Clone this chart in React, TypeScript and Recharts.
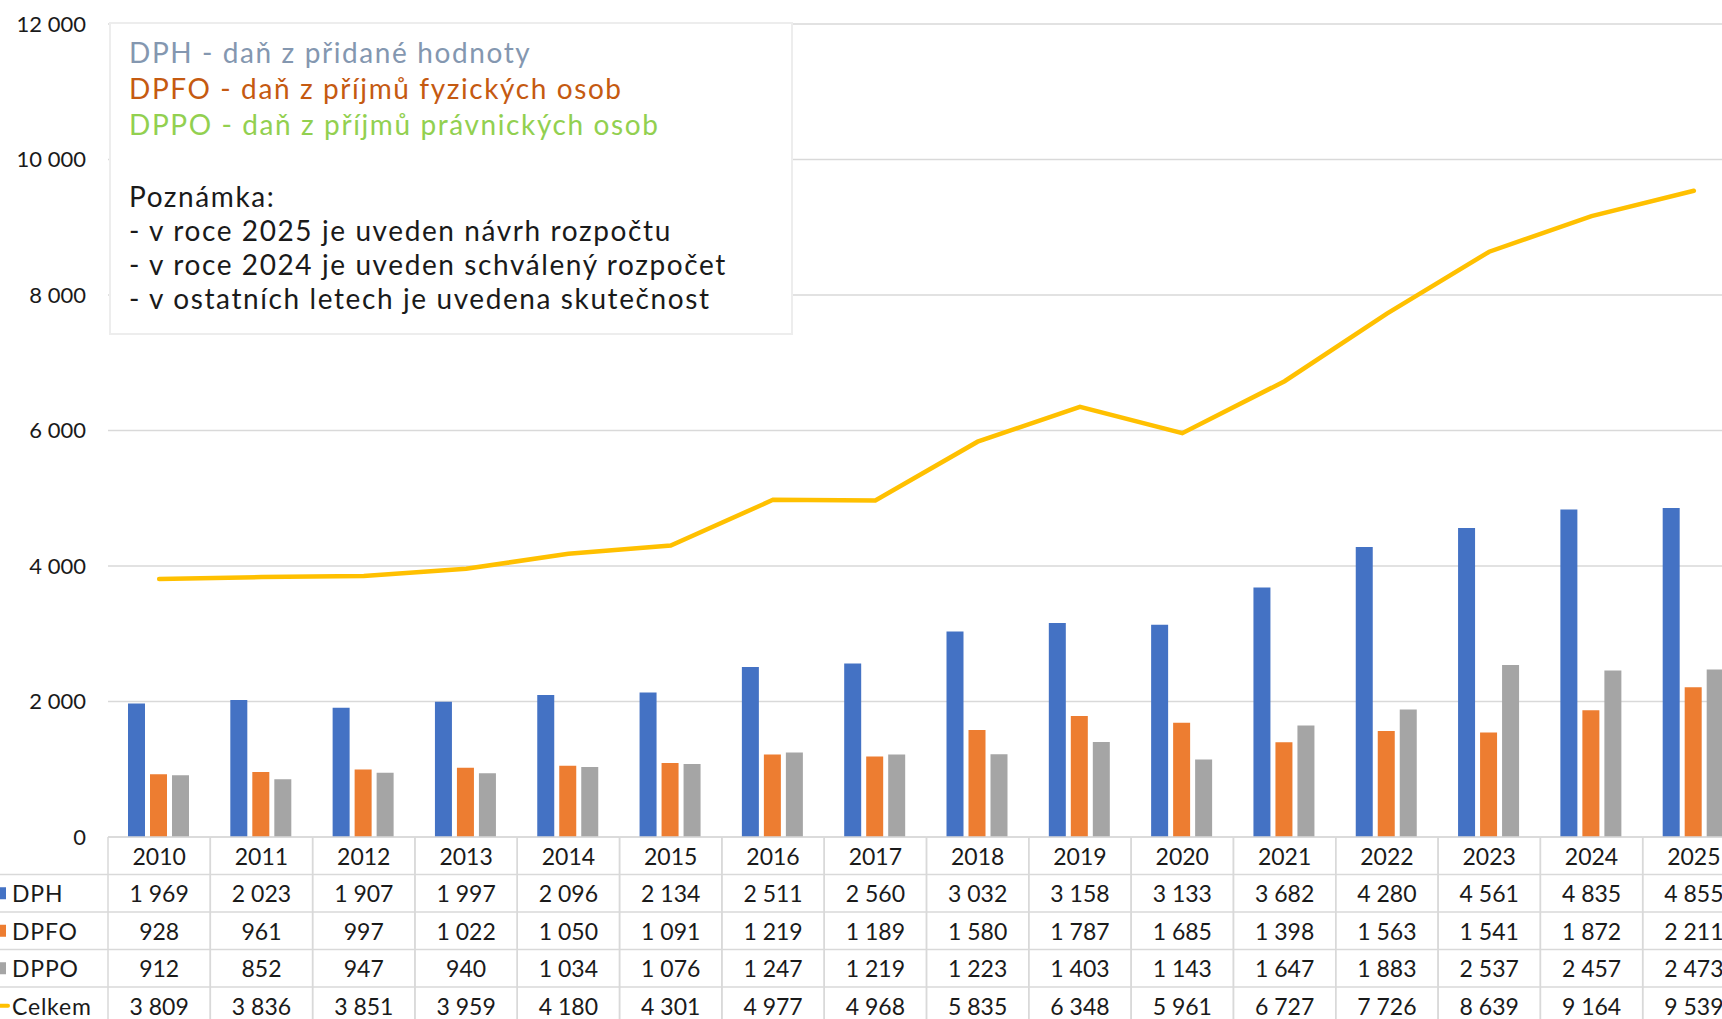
import React from 'react'
import {
  ComposedChart, Bar, Line, XAxis, YAxis, CartesianGrid,
} from 'recharts'

const years = ['2010', '2011', '2012', '2013', '2014', '2015', '2016', '2017',
  '2018', '2019', '2020', '2021', '2022', '2023', '2024', '2025']
const dph = [1969, 2023, 1907, 1997, 2096, 2134, 2511, 2560, 3032, 3158, 3133, 3682, 4280, 4561, 4835, 4855]
const dpfo = [928, 961, 997, 1022, 1050, 1091, 1219, 1189, 1580, 1787, 1685, 1398, 1563, 1541, 1872, 2211]
const dppo = [912, 852, 947, 940, 1034, 1076, 1247, 1219, 1223, 1403, 1143, 1647, 1883, 2537, 2457, 2473]
const celkem = [3809, 3836, 3851, 3959, 4180, 4301, 4977, 4968, 5835, 6348, 5961, 6727, 7726, 8639, 9164, 9539]
const yTicks = [0, 2000, 4000, 6000, 8000, 10000, 12000]

const legendLines = [
  { text: 'DPH - daň z přidané hodnoty', color: '#8497B0' },
  { text: 'DPFO - daň z příjmů fyzických osob', color: '#C55A11' },
  { text: 'DPPO - daň z příjmů právnických osob', color: '#92D050' },
]
const noteLines = [
  'Poznámka:',
  '- v roce 2025 je uveden návrh rozpočtu',
  '- v roce 2024 je uveden schválený rozpočet',
  '- v ostatních letech je uvedena skutečnost',
]

const rows = [
  { name: 'DPH', values: dph, color: '#4472C4', line: false },
  { name: 'DPFO', values: dpfo, color: '#ED7D31', line: false },
  { name: 'DPPO', values: dppo, color: '#A5A5A5', line: false },
  { name: 'Celkem', values: celkem, color: '#FFC000', line: true },
]

const data = years.map((y, i) => ({
  year: y, DPH: dph[i], DPFO: dpfo[i], DPPO: dppo[i], Celkem: celkem[i],
}))

const W = 1745
const H = 1030
const AXIS_W = 108
const BAND = (W - AXIS_W) / years.length
const ROW_H = 37.5
const FONT = 'Lato, "Noto Sans", sans-serif'
const BORDER = '#D9D9D9'
const INK = '#1a1a1a'

const fmt = (v: number) => String(v).replace(/\B(?=(\d{3})+(?!\d))/g, ' ')

function TableTick(props: any) {
  const { x, y, payload } = props
  const i = payload.index
  const left = x - BAND / 2
  const right = x + BAND / 2
  return (
    <g>
      <line x1={left} x2={left} y1={y} y2={y + ROW_H * 5} stroke={BORDER} strokeWidth={1.5} />
      <line x1={right} x2={right} y1={y} y2={y + ROW_H * 5} stroke={BORDER} strokeWidth={1.5} />
      {[0, 1, 2, 3, 4, 5].map(k => (
        <line key={k} x1={left} x2={right} y1={y + k * ROW_H} y2={y + k * ROW_H} stroke={BORDER} strokeWidth={1.5} />
      ))}
      <text x={x} y={y + ROW_H / 2} textAnchor="middle" dominantBaseline="central"
        fontFamily={FONT} fontSize={23} fill={INK}>{payload.value}</text>
      {rows.map((r, k) => (
        <text key={r.name} x={x} y={y + ROW_H * (k + 1.5)} textAnchor="middle" dominantBaseline="central"
          fontFamily={FONT} fontSize={23} fill={INK}>{fmt(r.values[i])}</text>
      ))}
      {i === 0 && (
        <g>
          {[1, 2, 3, 4, 5].map(k => (
            <line key={k} x1={0} x2={left} y1={y + k * ROW_H} y2={y + k * ROW_H} stroke={BORDER} strokeWidth={1.5} />
          ))}
          {rows.map((r, k) => {
            const cy = y + ROW_H * (k + 1.5)
            return (
              <g key={r.name}>
                {r.line
                  ? <line x1={-8} x2={8} y1={cy} y2={cy} stroke={r.color} strokeWidth={4} strokeLinecap="round" />
                  : <rect x={-6} y={cy - 6} width={12} height={12} fill={r.color} />}
                <text x={12} y={cy} dominantBaseline="central" fontFamily={FONT} fontSize={23}
                  letterSpacing={0.8} fill={INK}>{r.name}</text>
              </g>
            )
          })}
        </g>
      )}
    </g>
  )
}

export default function App() {
  return (
    <div style={{ position: 'absolute', left: 0, top: 0, width: 1722, height: 1019, overflow: 'hidden', background: '#fff' }}>
      <ComposedChart width={W} height={H} data={data} margin={{ top: 24, right: 0, left: 0, bottom: 0 }}
        barCategoryGap={20} barGap={5}>
        <CartesianGrid vertical={false} stroke={BORDER} strokeWidth={1.5} />
        <XAxis dataKey="year" height={H - 837} axisLine={false} tickLine={false} tickSize={0} tickMargin={0}
          interval={0} tick={<TableTick />} />
        <YAxis width={AXIS_W} domain={[0, 12000]} ticks={yTicks} axisLine={false} tickLine={false}
          tickSize={0} tickMargin={22} tickFormatter={fmt}
          tick={{ fontFamily: FONT, fontSize: 22, fill: INK }} />
        <Bar dataKey="DPH" fill="#4472C4" isAnimationActive={false} />
        <Bar dataKey="DPFO" fill="#ED7D31" isAnimationActive={false} />
        <Bar dataKey="DPPO" fill="#A5A5A5" isAnimationActive={false} />
        <Line dataKey="Celkem" type="linear" stroke="#FFC000" strokeWidth={4.5} strokeLinecap="round"
          dot={false} activeDot={false} isAnimationActive={false} />
      </ComposedChart>
      <div style={{
        position: 'absolute', left: 109, top: 22, width: 684, height: 313, boxSizing: 'border-box',
        background: '#fff', border: '2px solid #EDEDED', fontFamily: FONT,
      }}>
        {legendLines.map((l, k) => (
          <div key={l.text} style={{
            position: 'absolute', left: 18, top: 10 + k * 36, lineHeight: '36px',
            fontSize: 28, letterSpacing: 1.6, color: l.color, whiteSpace: 'nowrap',
          }}>{l.text}</div>
        ))}
        {noteLines.map((t, k) => (
          <div key={t} style={{
            position: 'absolute', left: 18, top: 154.5 + k * 34, lineHeight: '34px',
            fontSize: 28, letterSpacing: 1.6, color: INK, whiteSpace: 'nowrap',
          }}>{t}</div>
        ))}
      </div>
    </div>
  )
}
